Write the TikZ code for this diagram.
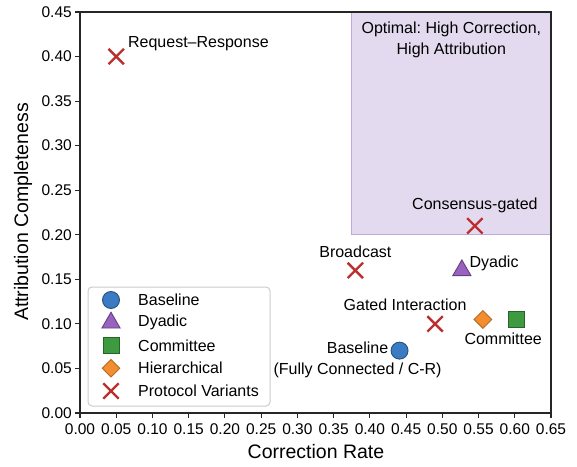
\documentclass[tikz,border=0pt]{standalone}
\usepackage{fontspec}
\setmainfont{Liberation Sans}
\usetikzlibrary{positioning,shapes.geometric,shapes.misc}
\frenchspacing

\definecolor{basecol}{HTML}{3B7BC4}
\definecolor{dyadcol}{HTML}{9A62C0}
\definecolor{commcol}{HTML}{3E9A3E}
\definecolor{hiercol}{HTML}{F28E2F}
\definecolor{protcol}{HTML}{BB302E}
\definecolor{optfill}{HTML}{E4DAEF}
\definecolor{optedge}{HTML}{BFA9DA}

\tikzset{
    axisline/.style={black!85, line width=1.3pt},
    tickline/.style={black!85, line width=1.1pt},
    ticklbl/.style={font=\fontsize{15.5}{18}\selectfont, inner sep=0pt},
    axislbl/.style={font=\fontsize{19.5}{23}\selectfont, inner sep=0pt},
    ptlbl/.style={font=\fontsize{16}{21}\selectfont, inner sep=1pt},
    basemark/.style={circle, draw=basecol!65!black, fill=basecol, line width=0.9pt, minimum size=17pt, inner sep=0pt},
    dyadmark/.style={regular polygon, regular polygon sides=3, draw=dyadcol!65!black, fill=dyadcol, line width=0.9pt, minimum size=21pt, inner sep=0pt},
    commmark/.style={rectangle, draw=commcol!65!black, fill=commcol, line width=0.9pt, minimum size=16pt, inner sep=0pt},
    hiermark/.style={diamond, draw=hiercol!75!black, fill=hiercol, line width=0.9pt, minimum width=18pt, minimum height=18pt, inner sep=0pt},
    protmark/.style={cross out, draw=protcol, line width=2.4pt, minimum size=13pt, inner sep=0pt},
    optbox/.style={fill=optfill, draw=optedge, line width=1pt},
    legbox/.style={draw=black!20, fill=white, fill opacity=0.85, rounded corners=4pt, line width=1pt}
}
% tick values printed in the text font
\newcommand{\ticknum}[1]{\pgfmathprintnumber[fixed, fixed zerofill, precision=2, assume math mode=true]{#1}}

\begin{document}
\begin{tikzpicture}[x=724.6pt, y=891.1pt]
    \useasboundingbox (-80pt,-53pt) rectangle (497pt,413pt);

    % target region
    \draw[optbox] (0.375,0.20) rectangle (0.65,0.45);
    \node[ptlbl, align=center, anchor=north, inner sep=0pt] (optlbl) at ([yshift=-10pt]0.5125,0.45)
        {Optimal: High Correction,\\High Attribution};

    % frame and ticks
    \draw[axisline] (0,0) rectangle (0.65,0.45);
    \foreach \i in {0,...,13} {
        \pgfmathsetmacro\tv{\i*0.05}
        \draw[tickline] (\tv,0) -- ++(0,-5pt);
        \node[ticklbl, anchor=north] (xt\i) at ([yshift=-10pt]\tv,0) {\ticknum{\tv}};
    }
    \foreach \i in {0,...,9} {
        \pgfmathsetmacro\tv{\i*0.05}
        \draw[tickline] (0,\tv) -- ++(-5pt,0);
        \node[ticklbl, anchor=east] (yt\i) at ([xshift=-8pt]0,\tv) {\ticknum{\tv}};
    }
    \node[axislbl] (xlbl) at (236pt,-39pt) {Correction Rate};
    \node[axislbl, rotate=90] (ylbl) at (-57pt,201pt) {Attribution Completeness};

    % data points
    \node[protmark] (rr) at (0.05,0.40) {};
    \node[protmark] (cg) at (0.545,0.21) {};
    \node[protmark] (bc) at (0.38,0.16) {};
    \node[protmark] (gi) at (0.49,0.10) {};
    \node[dyadmark] (dy) at (0.527,0.16) {};
    \node[hiermark] (hi) at (0.556,0.105) {};
    \node[commmark] (cm) at (0.602,0.105) {};
    \node[basemark] (bl) at (0.441,0.07) {};

    \node[ptlbl, above right=-3pt and 3pt of rr] (rrlbl) {Request--Response};
    \node[ptlbl, above=4pt of cg] (cglbl) {Consensus-gated};
    \node[ptlbl, above=4pt of bc] (bclbl) {Broadcast};
    \node[ptlbl, right=0pt of dy, yshift=7pt] (dylbl) {Dyadic};
    \node[ptlbl, above=4pt of gi, xshift=-30pt] (gilbl) {Gated Interaction};
    \node[ptlbl, below=4pt of cm, xshift=-13pt] (cmlbl) {Committee};
    \node[ptlbl, align=center] (bllbl) at ([shift={(-42pt,-9pt)}]bl.center)
        {Baseline\\(Fully Connected / C-R)};

    % legend
    \draw[legbox] (8pt,7pt) rectangle (190pt,126pt);
    \foreach \mk/\txt [count=\i] in {basemark/Baseline, dyadmark/Dyadic, commmark/Committee,
                                     hiermark/Hierarchical, protmark/Protocol Variants} {
        \node[\mk] (lgm\i) at (31pt,{113pt-(\i-1)*22.75pt}) {};
        \node[ptlbl, anchor=west] (lgt\i) at (57pt,{113pt-(\i-1)*22.75pt}) {\txt};
    }
\end{tikzpicture}
\end{document}
